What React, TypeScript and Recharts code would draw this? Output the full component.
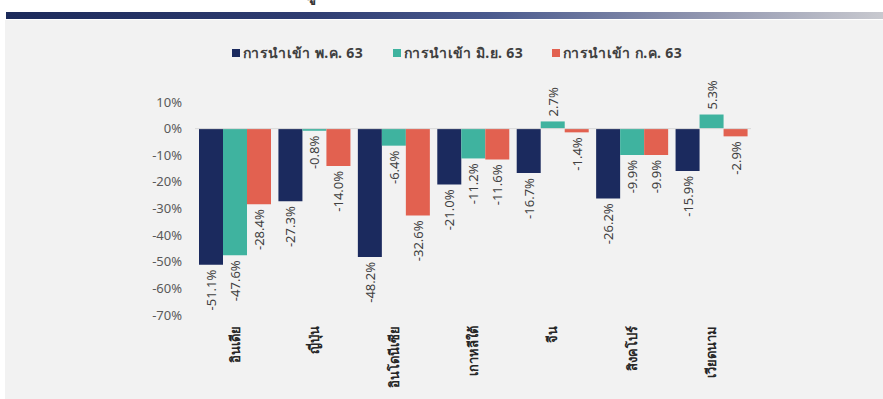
import React from 'react';
import { BarChart, Bar, XAxis, YAxis, ReferenceLine, LabelList } from 'recharts';

const categories = ['อินเดีย', 'ญี่ปุ่น', 'อินโดนีเซีย', 'เกาหลีใต้', 'จีน', 'สิงคโปร์', 'เวียดนาม'];
const seriesNames = ['การนำเข้า พ.ค. 63', 'การนำเข้า มิ.ย. 63', 'การนำเข้า ก.ค. 63'];
const mayValues = [-51.1, -27.3, -48.2, -21.0, -16.7, -26.2, -15.9];
const junValues = [-47.6, -0.8, -6.4, -11.2, 2.7, -9.9, 5.3];
const julValues = [-28.4, -14.0, -32.6, -11.6, -1.4, -9.9, -2.9];
const yTicks = [10, 0, -10, -20, -30, -40, -50, -60, -70];

const colors = ['#1b2a5e', '#3fb39f', '#e26150'];
const legendLeft = [232, 393, 552];
const FONT = "'Noto Sans', 'DejaVu Sans', sans-serif";

const data = categories.map((name, i) => ({
  name,
  may: mayValues[i],
  jun: junValues[i],
  jul: julValues[i],
}));

const ValueLabel = (props: any) => {
  const { x, y, width, height, value } = props;
  const cx = Number(x) + Number(width) / 2;
  const y1 = Number(y);
  const y2 = Number(y) + Number(height);
  const top = Math.min(y1, y2);
  const bottom = Math.max(y1, y2);
  const neg = Number(value) < 0;
  const ay = neg ? bottom + 5 : top - 5;
  return (
    <text
      x={cx}
      y={ay}
      transform={`rotate(-90, ${cx}, ${ay})`}
      textAnchor={neg ? 'end' : 'start'}
      dominantBaseline="central"
      fontSize={13}
      fontFamily={FONT}
      fill="#404040"
    >
      {`${Number(value).toFixed(1)}%`}
    </text>
  );
};

const CategoryTick = (props: any) => {
  const { x, y, payload } = props;
  const ay = Number(y) + 3;
  return (
    <text
      x={x}
      y={ay}
      transform={`rotate(-90, ${x}, ${ay})`}
      textAnchor="end"
      dominantBaseline="central"
      fontSize={13}
      fontWeight="bold"
      fontFamily={FONT}
      fill="#262626"
    >
      {payload.value}
    </text>
  );
};

export default function App() {
  return (
    <div style={{ position: 'absolute', left: 0, top: 0, width: 883, height: 399, background: '#ffffff', overflow: 'hidden' }}>
      <svg width={883} height={12} style={{ position: 'absolute', left: 0, top: 0 }}>
        <text x={306} y={0} fontSize={16} fontWeight="bold" fontFamily={FONT} fill="#333">ดู</text>
      </svg>
      <div
        style={{
          position: 'absolute',
          left: 6,
          top: 12,
          width: 877,
          height: 7,
          background: 'linear-gradient(to right, #1c2a5a 0%, #2f3d72 35%, #4a5a8e 55%, #9297b0 80%, #c8c9cf 100%)',
        }}
      />
      <div style={{ position: 'absolute', left: 5, top: 20, width: 878, height: 379, background: '#f2f2f2' }} />
      {seriesNames.map((n, i) => (
        <div
          key={i}
          style={{
            position: 'absolute',
            left: legendLeft[i],
            top: 43,
            height: 20,
            display: 'flex',
            alignItems: 'center',
            fontFamily: FONT,
            fontSize: 14,
            letterSpacing: 0.4,
            fontWeight: 'bold',
            color: '#404040',
            whiteSpace: 'nowrap',
          }}
        >
          <span style={{ display: 'inline-block', width: 8, height: 8, background: colors[i], marginRight: 3 }} />
          <span>{n}</span>
        </div>
      ))}
      <div style={{ position: 'absolute', left: 0, top: 0 }}>
        <BarChart width={883} height={399} data={data} margin={{ top: 102, right: 132, bottom: 0, left: 0 }} barGap={0} barSize={24}>
          <ReferenceLine y={0} stroke="#d9d9d9" strokeWidth={1} />
          <XAxis dataKey="name" axisLine={false} tickLine={false} interval={0} height={84} tick={<CategoryTick />} />
          <YAxis
            width={195}
            domain={[-70, 10]}
            ticks={yTicks}
            tickFormatter={(v: number) => `${v}%`}
            axisLine={false}
            tickLine={false}
            tickMargin={7}
            tick={{ fontSize: 13, fill: '#595959', fontFamily: FONT }}
          />
          <Bar dataKey="may" name={seriesNames[0]} fill={colors[0]} isAnimationActive={false}>
            <LabelList dataKey="may" content={<ValueLabel />} />
          </Bar>
          <Bar dataKey="jun" name={seriesNames[1]} fill={colors[1]} isAnimationActive={false}>
            <LabelList dataKey="jun" content={<ValueLabel />} />
          </Bar>
          <Bar dataKey="jul" name={seriesNames[2]} fill={colors[2]} isAnimationActive={false}>
            <LabelList dataKey="jul" content={<ValueLabel />} />
          </Bar>
        </BarChart>
      </div>
    </div>
  );
}
